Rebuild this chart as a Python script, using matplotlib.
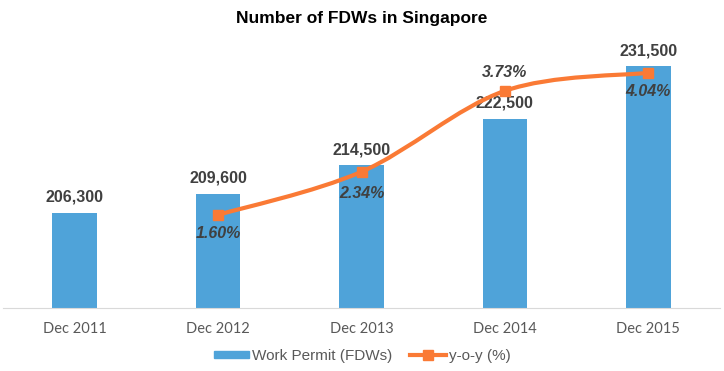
import numpy as np, matplotlib; matplotlib.use("Agg")
import matplotlib.pyplot as plt
from matplotlib.path import Path
from matplotlib.patches import PathPatch

years = ["Dec 2011", "Dec 2012", "Dec 2013", "Dec 2014", "Dec 2015"]
fdws = [206300, 209600, 214500, 222500, 231500]
yoy_x = [1, 2, 3, 4]
yoy = [1.60, 2.34, 3.73, 4.04]
yoy_lbl_pos = ["below", "below", "above", "below"]

bar_c = "#4FA3D9"; line_c = "#FA7A35"; txt_c = "#404040"
plt.rcParams["font.family"] = ["Liberation Sans", "DejaVu Sans"]

fig = plt.figure(figsize=(7.24, 3.71), dpi=100)
ax = fig.add_axes([3/724, 1-308/371, 717/724, 262/371])
x = np.arange(len(years))
ax.bar(x, fdws, width=0.31, color=bar_c, zorder=2)
ax.set_ylim(190000, 235000); ax.set_xlim(-0.5, 4.5)
for xi, v in zip(x, fdws):
    ax.text(xi, v + 1400, f"{v:,}", ha="center", va="bottom", fontsize=11.5,
            fontweight="bold", color=txt_c)
ax.set_yticks([])
for s in ["top", "left", "right"]: ax.spines[s].set_visible(False)
ax.spines["bottom"].set_color("#D9D9D9")
ax.set_xticks(x, years, color="#595959", fontsize=10.5, family=["Lato", "DejaVu Sans"])
ax.tick_params(axis="x", length=0, pad=10)

ax2 = ax.twinx(); ax2.set_ylim(0, 4.5); ax2.set_yticks([])
for s in ax2.spines.values(): s.set_visible(False)
# smooth curve through the points (Catmull-Rom as cubic Bezier)
px = np.array(yoy_x, float); py = np.array(yoy, float)
P = np.column_stack([px, py]); verts = [P[0]]; codes = [Path.MOVETO]
for i in range(len(P)-1):
    p0 = P[max(i-1, 0)]; p1 = P[i]; p2 = P[i+1]; p3 = P[min(i+2, len(P)-1)]
    verts += [p1 + (p2-p0)/6, p2 - (p3-p1)/6, p2]; codes += [Path.CURVE4]*3
ax2.add_patch(PathPatch(Path(verts, codes), fc="none", ec=line_c, lw=3, zorder=3))
ax2.plot(px, py, "s", color=line_c, ms=7, zorder=4)
for xi, v, pos in zip(yoy_x, yoy, yoy_lbl_pos):
    dy = 0.32 if pos == "above" else -0.32
    if xi == 2: dy = -0.37
    ax2.text(xi, v + dy, f"{v:.2f}%", ha="center", va="center", fontsize=11.5,
             fontweight="bold", style="italic", color=txt_c, zorder=5)

fig.text(0.5, 1-18/371, "Number of FDWs in Singapore", ha="center", va="center",
         fontsize=12.5, fontweight="bold", color="black")
h1 = plt.Rectangle((0, 0), 1, 1, color=bar_c)
h2 = plt.Line2D([], [], color=line_c, lw=3, marker="s", ms=7)
leg = fig.legend([h1, h2], ["Work Permit (FDWs)", "y-o-y (%)"], loc="center",
                 bbox_to_anchor=(0.5, 1-356/371), ncol=2, frameon=False,
                 fontsize=11, handlelength=2.3, handleheight=0.4, handletextpad=0.2,
                 columnspacing=1.2)
for t in leg.get_texts(): t.set_color("#595959")
fig.savefig("out.png", dpi=100)
